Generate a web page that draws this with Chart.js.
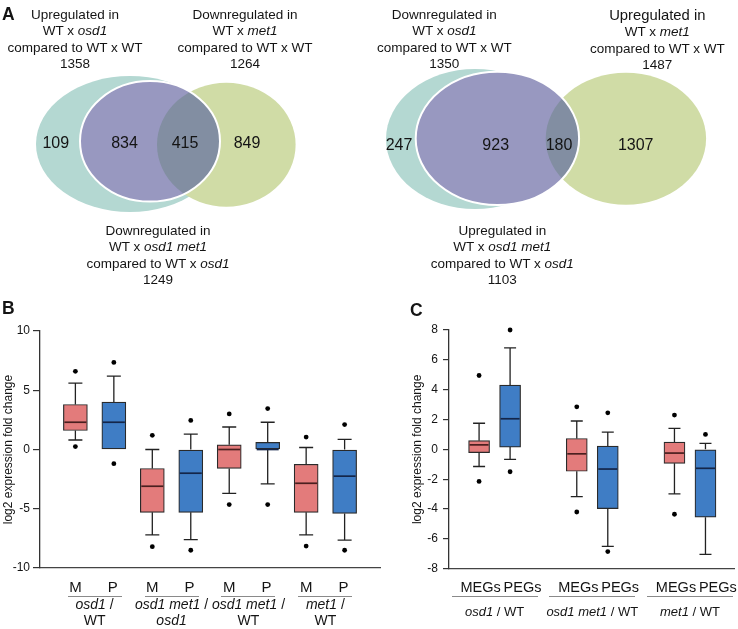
<!DOCTYPE html>
<html>
<head>
<meta charset="utf-8">
<script src="https://cdn.jsdelivr.net/npm/chart.js@4.4.1/dist/chart.umd.min.js"></script>
<style>
  html, body { margin: 0; padding: 0; background: #fff; }
  body { width: 738px; height: 629px; position: relative; overflow: hidden;
         font-family: 'Liberation Sans', Arial, sans-serif; color: #141414; }
  canvas { position: absolute; }
  .lbl { position: absolute; text-align: center; white-space: nowrap; font-size: 13.5px; line-height: 16.5px; width: 220px; }
  .num { position: absolute; font-size: 16px; line-height: 16px; transform: translate(-50%, -50%); white-space: nowrap; }
  .panel { position: absolute; font-weight: bold; font-size: 17.5px; line-height: 17.5px; }
  .uline { position: absolute; height: 0; border-top: 1.5px solid #8a8a8a; }
  .grp { position: absolute; text-align: center; white-space: nowrap; transform: translateX(-50%); }
</style>
</head>
<body>
<canvas id="venn" width="738" height="300" style="left:0;top:0"></canvas>
<canvas id="boxB" width="384" height="329" style="left:0;top:300px"></canvas>
<canvas id="boxC" width="354" height="329" style="left:384px;top:300px"></canvas>
<div id="labels"></div>
<script>
// ---- Panel A: Venn counts ----
const vennLeftCounts = [109, 834, 415, 849];
const vennRightCounts = [247, 923, 180, 1307];
const vennLeftTotals = [1358, 1264, 1249];
const vennRightTotals = [1350, 1487, 1103];
const vennLeftTitles = [
  ['Upregulated in', 'WT x <i>osd1</i>', 'compared to WT x WT'],
  ['Downregulated in', 'WT x <i>met1</i>', 'compared to WT x WT'],
  ['Downregulated in', 'WT x <i>osd1 met1</i>', 'compared to WT x <i>osd1</i>']
];
const vennRightTitles = [
  ['Downregulated in', 'WT x <i>osd1</i>', 'compared to WT x WT'],
  ['Upregulated in', 'WT x <i>met1</i>', 'compared to WT x WT'],
  ['Upregulated in', 'WT x <i>osd1 met1</i>', 'compared to WT x <i>osd1</i>']
];

// ---- Panel B: box stats ----
const bLabels = ['M', 'P', 'M', 'P', 'M', 'P', 'M', 'P'];
const bGroups = [['<i>osd1</i> /', 'WT'], ['<i>osd1 met1</i> /', '<i>osd1</i>'], ['<i>osd1 met1</i> /', 'WT'], ['<i>met1</i> /', 'WT']];
const bMin = [0.8, 0, -7.2, -7.6, -3.7, -2.9, -7.2, -7.65];
const bQ1 = [1.6, 0, -5.3, -5.3, -1.6, 0, -5.3, -5.4];
const bMed = [2.3, 2.3, -3.1, -2.0, 0, 0, -2.85, -2.25];
const bQ3 = [3.8, 4.0, -1.6, 0, 0.4, 0.6, -1.25, 0];
const bMax = [5.6, 6.2, 0, 1.3, 1.9, 2.3, 0.17, 0.85];
const bOutHi = [6.6, 7.35, 1.2, 2.45, 3.0, 3.45, 1.05, 2.1];
const bOutLo = [0.25, -1.2, -8.2, -8.5, -4.65, -4.65, -8.15, -8.5];

// ---- Panel C: box stats ----
const cLabels = ['MEGs', 'PEGs', 'MEGs', 'PEGs', 'MEGs', 'PEGs'];
const cGroups = ['<i>osd1</i> / WT', '<i>osd1 met1</i> / WT', '<i>met1</i> / WT'];
const cMin = [-1.15, -0.67, -3.17, -6.5, -2.98, -7.04];
const cQ1 = [-0.22, 0.15, -1.47, -3.97, -0.94, -4.55];
const cMed = [0.3, 2.05, -0.3, -1.32, -0.25, -1.27];
const cQ3 = [0.58, 4.3, 0.73, 0.22, 0.49, 0];
const cMax = [1.75, 6.8, 1.9, 1.15, 1.4, 0.4];
const cOutHi = [4.95, 8.0, 2.85, 2.45, 2.3, 1.0];
const cOutLo = [-2.15, -1.5, -4.2, -6.85, -4.35, null];

// x slots for boxes (group layout)
const bX = bLabels.map((l, i) => i + 1);
const cX = cLabels.map((l, i) => Math.floor(i / 2) * 3.15 + (i % 2) + 1);

const pink = '#E37B7B', blue = '#3F7DC5';
const teal = '#B4D8D2', purple = '#9898C0', green = '#D0DCA6', overlap = '#828EA2';
const fontFamily = "'Liberation Sans', Arial, sans-serif";

// ---- Venn drawing through the chart scales ----
const vennPlugin = {
  id: 'venn',
  beforeDatasetsDraw(chart, args, o) {
    const {ctx} = chart;
    const {x, y} = chart.scales;
    const ell = (e) => {
      ctx.beginPath();
      ctx.ellipse(x.getPixelForValue(e.cx), y.getPixelForValue(e.cy),
        Math.abs(x.getPixelForValue(e.cx + e.rx) - x.getPixelForValue(e.cx)),
        Math.abs(y.getPixelForValue(e.cy + e.ry) - y.getPixelForValue(e.cy)), 0, 0, Math.PI * 2);
    };
    o.diagrams.forEach(d => {
      ctx.save();
      ell(d.a); ctx.fillStyle = teal; ctx.fill();
      ell(d.c); ctx.fillStyle = green; ctx.fill();
      ell(d.b); ctx.fillStyle = purple; ctx.fill();
      ctx.save(); ell(d.b); ctx.clip(); ell(d.c); ctx.fillStyle = overlap; ctx.fill(); ctx.restore();
      ell(d.b); ctx.strokeStyle = '#fff'; ctx.lineWidth = 2; ctx.stroke();
      ctx.restore();
    });
  }
};

new Chart(document.getElementById('venn'), {
  type: 'scatter',
  data: { datasets: [] },
  options: {
    responsive: false, animation: false,
    layout: { padding: 0 },
    plugins: {
      legend: { display: false }, tooltip: { enabled: false },
      venn: {
        diagrams: [
          { a: {cx: 130, cy: 144, rx: 94, ry: 68}, b: {cx: 150, cy: 141.3, rx: 70, ry: 60.3}, c: {cx: 226.3, cy: 144.7, rx: 69.3, ry: 62} },
          { a: {cx: 475, cy: 139, rx: 89, ry: 70}, b: {cx: 497.4, cy: 138.4, rx: 81.7, ry: 66.7}, c: {cx: 625.9, cy: 138.7, rx: 80.2, ry: 66} }
        ]
      }
    },
    scales: {
      x: { type: 'linear', min: 0, max: 738, display: false },
      y: { type: 'linear', min: 0, max: 300, reverse: true, display: false }
    }
  },
  plugins: [vennPlugin]
});

// ---- Box plot whiskers and medians ----
const boxPlot = {
  id: 'boxPlot',
  afterDatasetsDraw(chart, args, o) {
    const {ctx} = chart;
    const {x, y} = chart.scales;
    ctx.save();
    o.xs.forEach((xv, i) => {
      const px = x.getPixelForValue(xv);
      const cap = o.capW / 2, half = o.boxW / 2;
      ctx.strokeStyle = '#222';
      ctx.lineWidth = 1.3;
      ctx.beginPath();
      if (o.max[i] > o.q3[i]) {
        const t = y.getPixelForValue(o.max[i]);
        ctx.moveTo(px, y.getPixelForValue(o.q3[i])); ctx.lineTo(px, t);
        ctx.moveTo(px - cap, t); ctx.lineTo(px + cap, t);
      }
      if (o.min[i] < o.q1[i]) {
        const b = y.getPixelForValue(o.min[i]);
        ctx.moveTo(px, y.getPixelForValue(o.q1[i])); ctx.lineTo(px, b);
        ctx.moveTo(px - cap, b); ctx.lineTo(px + cap, b);
      }
      ctx.stroke();
      const m = y.getPixelForValue(o.med[i]);
      ctx.strokeStyle = o.medColors[i];
      ctx.lineWidth = 1.7;
      ctx.beginPath();
      ctx.moveTo(px - half + 1, m); ctx.lineTo(px + half - 1, m);
      ctx.stroke();
    });
    ctx.restore();
  }
};

function outlierPoints(xs, hi, lo) {
  const pts = [];
  xs.forEach((xv, i) => {
    if (hi[i] != null) pts.push({x: xv, y: hi[i]});
    if (lo[i] != null) pts.push({x: xv, y: lo[i]});
  });
  return pts;
}

function boxChart(id, cfg) {
  const colors = cfg.labels.map((l, i) => i % 2 === 0 ? pink : blue);
  return new Chart(document.getElementById(id), {
    type: 'bar',
    data: {
      datasets: [
        {
          type: 'bar',
          data: cfg.xs.map((xv, i) => ({x: xv, y: [cfg.q1[i], cfg.q3[i]]})),
          backgroundColor: colors,
          borderColor: '#2a2a2a',
          borderWidth: 1.2,
          borderSkipped: false,
          barThickness: cfg.boxW
        },
        {
          type: 'scatter',
          data: outlierPoints(cfg.xs, cfg.outHi, cfg.outLo),
          backgroundColor: '#000',
          borderWidth: 0,
          pointRadius: 2.4,
          clip: false
        }
      ]
    },
    options: {
      responsive: false, animation: false,
      layout: { padding: cfg.padding },
      plugins: {
        legend: { display: false }, tooltip: { enabled: false },
        boxPlot: {
          xs: cfg.xs, min: cfg.min, q1: cfg.q1, med: cfg.med, q3: cfg.q3, max: cfg.max,
          boxW: cfg.boxW, capW: cfg.capW,
          medColors: cfg.labels.map((l, i) => i % 2 === 0 ? '#4a1f1f' : '#14264a')
        }
      },
      scales: {
        x: {
          type: 'linear', min: cfg.xMin, max: cfg.xMax, offset: false,
          grid: { display: false, drawTicks: false, offset: false },
          border: { display: true, color: '#444', width: 1.3 },
          // label anchors sit on the boxes, nudged as in the original layout
          afterBuildTicks: s => { s.ticks = cfg.xs.map((v, i) => ({value: v + cfg.labelShift[i % 2]})); },
          ticks: {
            autoSkip: false, maxRotation: 0, padding: 11, color: '#141414',
            font: { size: cfg.tickFont, family: fontFamily },
            callback: (v, i) => cfg.labels[i]
          },
          afterFit: s => { s.height = cfg.xHeight; s.paddingLeft = 0; s.paddingRight = 0; }
        },
        y: {
          min: cfg.yMin, max: cfg.yMax,
          ticks: { stepSize: cfg.step, padding: cfg.tickPad, color: '#141414',
                   font: { size: 12, family: fontFamily } },
          grid: { drawOnChartArea: false, drawTicks: true, tickLength: cfg.tickLen, color: '#333', lineWidth: 1.2 },
          border: { display: true, color: '#333', width: 1.3 },
          title: { display: true, text: 'log2 expression fold change', color: '#141414', padding: {top: 1, bottom: 0},
                   font: { size: 12, family: fontFamily } },
          afterFit: s => { s.width = cfg.yWidth; }
        }
      }
    },
    plugins: [boxPlot]
  });
}

const chartB = boxChart('boxB', {
  labels: bLabels, xs: bX, min: bMin, q1: bQ1, med: bMed, q3: bQ3, max: bMax, outHi: bOutHi, outLo: bOutLo,
  boxW: 24, capW: 14, xMin: 0.08, xMax: 8.92, yMin: -10, yMax: 10, step: 5, labelShift: [0, -0.03], tickFont: 15,
  padding: {top: 31, right: 2, left: 0, bottom: 0}, xHeight: 61, yWidth: 40, tickLen: 7, tickPad: 3
});

const chartC = boxChart('boxC', {
  labels: cLabels, xs: cX, min: cMin, q1: cQ1, med: cMed, q3: cQ3, max: cMax, outHi: cOutHi, outLo: cOutLo,
  boxW: 21, capW: 12, xMin: 0.03, xMax: 9.22, yMin: -8, yMax: 8, step: 2, labelShift: [0.05, 0.4], tickFont: 14.5,
  padding: {top: 30, right: 4, left: 25, bottom: 0}, xHeight: 60.3, yWidth: 40, tickLen: 6, tickPad: 5
});

// ---- HTML text: titles, counts, group labels ----
const host = document.getElementById('labels');
function add(cls, html, style) {
  const d = document.createElement('div');
  d.className = cls;
  d.innerHTML = html;
  Object.assign(d.style, style);
  host.appendChild(d);
  return d;
}

add('panel', 'A', {left: '2px', top: '6px'});
add('panel', 'B', {left: '2px', top: '300px'});
add('panel', 'C', {left: '410px', top: '302px'});

const titleSpots = [
  {cx: 75, top: 6.75}, {cx: 245, top: 6.75}, {cx: 158, top: 222.75},
  {cx: 444.3, top: 6.75}, {cx: 657.3, top: 6.75}, {cx: 502.3, top: 222.75}
];
const allTitles = vennLeftTitles.concat(vennRightTitles);
const allTotals = vennLeftTotals.concat(vennRightTotals);
allTitles.forEach((lines, i) => {
  const first = i === 4 ? '<span style="font-size:14.8px">' + lines[0] + '</span>' : lines[0];
  const html = [first].concat(lines.slice(1), [String(allTotals[i])]).join('<br>');
  add('lbl', html, {left: (titleSpots[i].cx - 110) + 'px', top: titleSpots[i].top + 'px'});
});

const countSpots = [[55.8, 143.3], [124.5, 143.3], [185, 143.3], [247, 143.3],
                    [399, 145.3], [495.7, 145.3], [559, 145.3], [635.7, 145.3]];
vennLeftCounts.concat(vennRightCounts).forEach((n, i) => {
  add('num', String(n), {left: countSpots[i][0] + 'px', top: countSpots[i][1] + 'px'});
});

function groupLabels(chart, left, xs, groups, ulineW, textTop, size, lh) {
  const sx = chart.scales.x;
  groups.forEach((g, gi) => {
    const cx = left + (sx.getPixelForValue(xs[2 * gi]) + sx.getPixelForValue(xs[2 * gi + 1])) / 2;
    add('uline', '', {left: (cx - ulineW / 2) + 'px', top: '595.5px', width: ulineW + 'px'});
    const html = Array.isArray(g) ? g.join('<br>') : g;
    add('grp', html, {left: cx + 'px', top: textTop + 'px', fontSize: size + 'px', lineHeight: lh + 'px'});
  });
}
groupLabels(chartB, 0, bX, bGroups, 54, 597, 14, 15.5);
groupLabels(chartC, 384, cX, cGroups, 86, 604.2, 13, 15);
</script>
</body>
</html>
